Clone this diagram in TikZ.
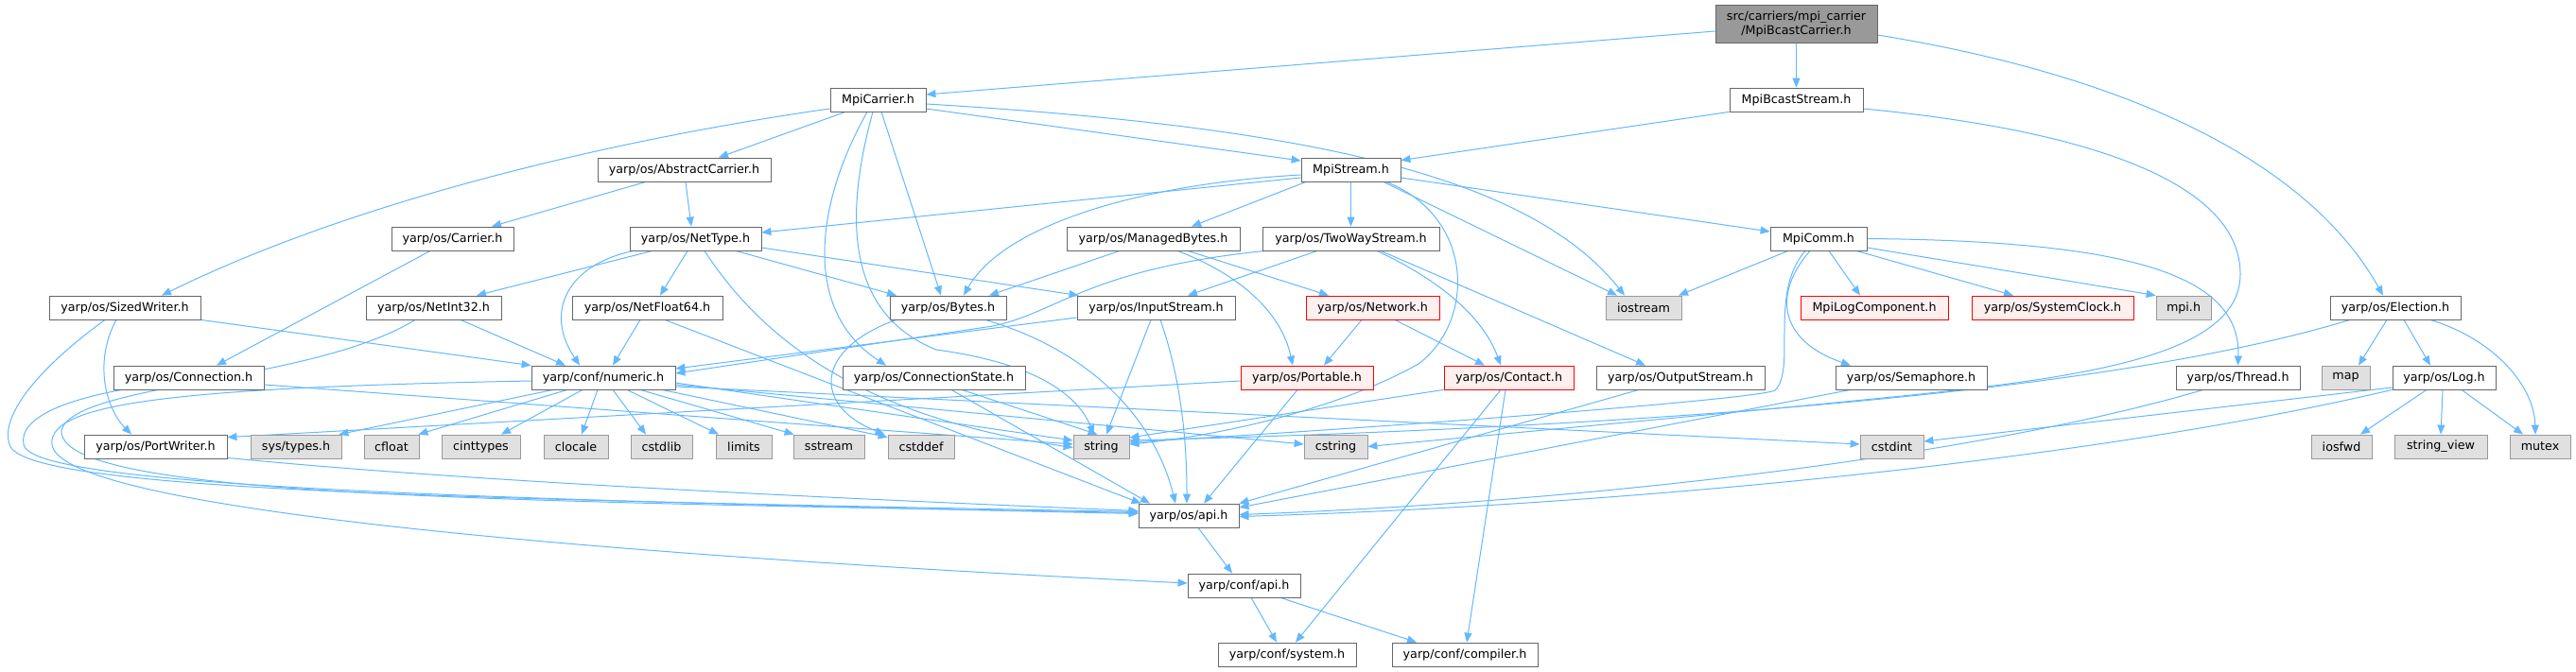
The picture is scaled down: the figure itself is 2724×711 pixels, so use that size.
\documentclass[tikz,border=0pt]{standalone}
\usepackage{fontspec}
\newfontfamily\dvs{DejaVu Sans}
\usetikzlibrary{arrows.meta,backgrounds}
\definecolor{edgeblue}{HTML}{63B8FF}
\definecolor{nborder}{HTML}{666666}
\definecolor{gborder}{HTML}{999999}
\definecolor{gfill}{HTML}{E0E0E0}
\definecolor{rfill}{HTML}{FFF0F0}
\definecolor{rootfill}{HTML}{999999}
\begin{document}
\begin{tikzpicture}[x=1pt,y=-1pt,
  nbox/.style={draw=nborder, fill=white, line width=0.8pt, minimum height=25pt, inner sep=0pt,
    font=\dvs\fontsize{12.7}{15}\selectfont, text=black},
  gbox/.style={nbox, draw=gborder, fill=gfill},
  rbox/.style={nbox, draw=red, fill=rfill},
  edge/.style={draw=edgeblue, line width=1pt, -{Triangle[length=10pt,width=8pt]}}]
\useasboundingbox (0,0) rectangle (2724,711);
% nodes
\node[nbox, fill=rootfill, minimum width=171pt, minimum height=40pt, align=center] (root) at (1899.5,25) {src/carriers/mpi\_carrier\\/MpiBcastCarrier.h};
\node[nbox, minimum width=101pt] (MC) at (928.5,105.5) {MpiCarrier.h};
\node[nbox, minimum width=141pt] (MBS) at (1899.5,105.5) {MpiBcastStream.h};
\node[nbox, minimum width=183pt] (AC) at (723.5,179.5) {yarp/os/AbstractCarrier.h};
\node[nbox, minimum width=105pt] (MS) at (1428.5,179.5) {MpiStream.h};
\node[nbox, minimum width=129pt] (CA) at (478.5,252.5) {yarp/os/Carrier.h};
\node[nbox, minimum width=139pt] (NT) at (735.5,252.5) {yarp/os/NetType.h};
\node[nbox, minimum width=183pt] (MB) at (1219.5,252.5) {yarp/os/ManagedBytes.h};
\node[nbox, minimum width=187pt] (TWS) at (1428.5,252.5) {yarp/os/TwoWayStream.h};
\node[nbox, minimum width=102pt] (COMM) at (1923,252.5) {MpiComm.h};
\node[nbox, minimum width=160pt] (SW) at (132,325.5) {yarp/os/SizedWriter.h};
\node[nbox, minimum width=143pt] (NI) at (458.5,325.5) {yarp/os/NetInt32.h};
\node[nbox, minimum width=159pt] (NF) at (684.5,325.5) {yarp/os/NetFloat64.h};
\node[nbox, minimum width=123pt] (BY) at (1002.5,325.5) {yarp/os/Bytes.h};
\node[nbox, minimum width=167pt] (IS) at (1222.5,325.5) {yarp/os/InputStream.h};
\node[rbox, minimum width=141pt] (NW) at (1451.5,325.5) {yarp/os/Network.h};
\node[gbox, minimum width=80pt] (IO) at (1738,325.5) {iostream};
\node[rbox, minimum width=156pt] (MLC) at (1982,325.5) {MpiLogComponent.h};
\node[rbox, minimum width=171pt] (SC) at (2170.5,325.5) {yarp/os/SystemClock.h};
\node[gbox, minimum width=58pt] (MPI) at (2309,325.5) {mpi.h};
\node[nbox, minimum width=138pt] (EL) at (2533,325.5) {yarp/os/Election.h};
\node[nbox, minimum width=159pt] (CO) at (199.5,399.5) {yarp/os/Connection.h};
\node[nbox, minimum width=152pt] (NUM) at (638,399.5) {yarp/conf/numeric.h};
\node[nbox, minimum width=193pt] (CS) at (987.5,399.5) {yarp/os/ConnectionState.h};
\node[rbox, minimum width=140pt] (PO) at (1382,399.5) {yarp/os/Portable.h};
\node[rbox, minimum width=137pt] (CT) at (1595.5,399.5) {yarp/os/Contact.h};
\node[nbox, minimum width=178pt] (OS) at (1777,399.5) {yarp/os/OutputStream.h};
\node[nbox, minimum width=160pt] (SE) at (2021,399.5) {yarp/os/Semaphore.h};
\node[nbox, minimum width=131pt] (TH) at (2366.5,399.5) {yarp/os/Thread.h};
\node[gbox, minimum width=51pt] (MAP) at (2480.5,399.5) {map};
\node[nbox, minimum width=109pt] (LOG) at (2584.5,399.5) {yarp/os/Log.h};
\node[nbox, minimum width=151pt] (PW) at (164.5,472.5) {yarp/os/PortWriter.h};
\node[gbox, minimum width=96pt] (SYS) at (313,472.5) {sys/types.h};
\node[gbox, minimum width=58pt] (CFL) at (414,472.5) {cfloat};
\node[gbox, minimum width=83pt] (CIT) at (508.5,472.5) {cinttypes};
\node[gbox, minimum width=68pt] (CLO) at (609,472.5) {clocale};
\node[gbox, minimum width=65pt] (CSL) at (699.5,472.5) {cstdlib};
\node[gbox, minimum width=59pt] (LIM) at (786.5,472.5) {limits};
\node[gbox, minimum width=75pt] (SST) at (876.5,472.5) {sstream};
\node[gbox, minimum width=70pt] (CSD) at (974,472.5) {cstddef};
\node[gbox, minimum width=59pt] (STR) at (1164.5,472.5) {string};
\node[gbox, minimum width=67pt] (CST) at (1412.5,472.5) {cstring};
\node[gbox, minimum width=67pt] (CSI) at (2000.5,472.5) {cstdint};
\node[gbox, minimum width=64pt] (IOF) at (2476,472.5) {iosfwd};
\node[gbox, minimum width=98pt] (SV) at (2581,472.5) {string\_view};
\node[gbox, minimum width=64pt] (MUT) at (2686,472.5) {mutex};
\node[nbox, minimum width=106pt] (OSAPI) at (1257,545.5) {yarp/os/api.h};
\node[nbox, minimum width=119pt] (CAPI) at (1315.5,619.5) {yarp/conf/api.h};
\node[nbox, minimum width=146pt] (SYSH) at (1361,692.5) {yarp/conf/system.h};
\node[nbox, minimum width=154pt] (COMP) at (1549,692.5) {yarp/conf/compiler.h};
% edges
\begin{scope}[on background layer]
\fill[white] (0,0) rectangle (2724,711);
% root
\draw[edge] ([yshift=-8pt]root.west) -- ([yshift=5.5pt]MC.east);
\draw[edge] (root.south) -- (MBS.north);
\draw[edge] ([yshift=-12pt]root.east) .. controls (2250,80) and (2440,170) .. ([xshift=-13pt]EL.north);
% MpiCarrier
\draw[edge] ([yshift=-9.5pt]MC.west) .. controls (700,140) and (400,200) .. ([xshift=39pt]SW.north);
\draw[edge] ([xshift=-34.5pt]MC.south) -- ([xshift=36.5pt]AC.north);
\draw[edge] ([xshift=-11.5pt]MC.south) .. controls (860,220) and (850,330) .. ([xshift=-50.5pt]CS.north);
\draw[edge] ([xshift=-5.5pt]MC.south) .. controls (895,220) and (890,330) .. (990,370) .. controls (1100,385) and (1140,420) .. ([xshift=-7.5pt]STR.north);
\draw[edge] ([xshift=3.5pt]MC.south) -- ([xshift=-7.5pt]BY.north);
\draw[edge] ([yshift=-9.5pt]MC.east) -- ([yshift=9.5pt]MS.west);
\draw[edge] ([yshift=-4.5pt]MC.east) .. controls (1400,135) and (1620,190) .. ([xshift=-20pt]IO.north);
% MpiBcastStream
\draw[edge] (MBS.south west) -- ([yshift=-3pt]MS.north east);
\draw[edge] ([yshift=-9.5pt]MBS.east) .. controls (2230,140) and (2369,200) .. (2369,290) .. controls (2369,390) and (2150,405) .. (1900,430) -- (CST.east);
% MpiStream
\draw[edge] ([yshift=-8.5pt]MS.west) -- ([yshift=6.5pt]NT.east);
\draw[edge] ([yshift=-5.5pt]MS.west) .. controls (1200,195) and (1060,240) .. ([xshift=16.5pt]BY.north);
\draw[edge] ([xshift=-47.5pt]MS.south) -- ([xshift=40.5pt]MB.north);
\draw[edge] (MS.south) -- (TWS.north);
\draw[edge] ([xshift=34.5pt]MS.south) -- ([xshift=-28pt]IO.north);
\draw[edge] ([xshift=37.5pt]MS.south) .. controls (1560,230) and (1560,340) .. (1500,385) .. controls (1420,430) and (1300,460) .. ([yshift=2.5pt]STR.east);
\draw[edge] ([yshift=-8.5pt]MS.east) -- ([yshift=7.5pt]COMM.west);
% AbstractCarrier, Carrier
\draw[edge] ([xshift=-40.5pt]AC.south) -- ([xshift=41.5pt]CA.north);
\draw[edge] ([xshift=1.5pt]AC.south) -- ([xshift=-4.5pt]NT.north);
\draw[edge] ([xshift=-23.5pt]CA.south) -- ([xshift=29.5pt]CO.north);
% NetType
\draw[edge] ([xshift=-45.5pt]NT.south) -- ([xshift=45.5pt]NI.north);
\draw[edge] ([xshift=-65.5pt]NT.south) .. controls (600,280) and (575,330) .. ([xshift=-25pt]NUM.north);
\draw[edge] ([xshift=-8.5pt]NT.south) -- ([xshift=13.5pt]NF.north);
\draw[edge] ([xshift=42.5pt]NT.south) -- ([xshift=-54.5pt]BY.north);
\draw[edge] ([yshift=-9.5pt]NT.east) -- ([xshift=2pt]IS.north west);
\draw[edge] ([xshift=9.5pt]NT.south) .. controls (800,350) and (900,440) .. ([yshift=-1pt]STR.west);
% SizedWriter, NetInt32, NetFloat64
\draw[edge] ([xshift=-9pt]SW.south) .. controls (100,380) and (110,430) .. ([xshift=-25.5pt]PW.north);
\draw[edge] (SW.south east) -- (NUM.north west);
\draw[edge] ([xshift=-21pt]SW.south) .. controls (40,390) and (0,440) .. (10,470) .. controls (20,520) and (500,528) .. ([yshift=4pt]OSAPI.west);
\draw[edge] ([xshift=28.5pt]NI.south) -- ([xshift=-40pt]NUM.north);
\draw[edge] ([xshift=-19.5pt]NI.south) .. controls (330,405) and (80,405) .. (65,455) .. controls (60,525) and (500,530) .. ([yshift=3pt]OSAPI.west);
\draw[edge] ([xshift=-7.5pt]NF.south) -- ([xshift=10pt]NUM.north);
\draw[edge] ([xshift=18.5pt]NF.south) -- ([xshift=3pt]OSAPI.north west);
% Connection, PortWriter
\draw[edge] ([xshift=-70.5pt]CO.south) .. controls (60,425) and (20,445) .. (25,470) .. controls (30,515) and (500,528) .. ([yshift=2pt]OSAPI.west);
\draw[edge] ([yshift=-7.5pt]CO.east) -- ([yshift=2.5pt]STR.west);
\draw[edge] ([yshift=1pt]PW.south east) .. controls (500,510) and (900,528) .. ([yshift=5pt]OSAPI.west);
% numeric
\draw[edge] ([yshift=-3.5pt]NUM.west) .. controls (200,410) and (50,425) .. (55,470) .. controls (60,530) and (500,580) .. ([yshift=2.5pt]CAPI.west);
\draw[edge] ([xshift=-53pt]NUM.south) -- ([xshift=-3pt]SYS.north east);
\draw[edge] ([xshift=-38pt]NUM.south) -- ([xshift=-1pt]CFL.north east);
\draw[edge] ([xshift=-22pt]NUM.south) -- ([xshift=21.5pt]CIT.north);
\draw[edge] ([xshift=-6pt]NUM.south) -- ([xshift=6pt]CLO.north);
\draw[edge] ([xshift=10pt]NUM.south) -- ([xshift=-16.5pt]CSL.north);
\draw[edge] ([xshift=25pt]NUM.south) -- ([xshift=-26.5pt]LIM.north);
\draw[edge] ([xshift=39pt]NUM.south) -- ([xshift=1pt]SST.north west);
\draw[edge] ([xshift=62pt]NUM.south) -- ([yshift=-3pt]CSD.north west);
\draw[edge] ([yshift=-5.5pt]NUM.east) -- ([yshift=6.5pt]STR.west);
\draw[edge] ([yshift=-7.5pt]NUM.east) -- ([yshift=2.5pt]CST.west);
\draw[edge] ([yshift=-9.5pt]NUM.east) -- ([yshift=2.5pt]CSI.west);
% Bytes, ConnectionState, InputStream
\draw[edge] ([xshift=7pt]BY.south west) .. controls (860,370) and (860,430) .. ([xshift=-3pt]CSD.north west);
\draw[edge] ([xshift=39.5pt]BY.south) .. controls (1150,370) and (1220,440) .. ([xshift=-14pt]OSAPI.north);
\draw[edge] ([xshift=18.5pt]CS.south) -- ([xshift=-41pt]OSAPI.north);
\draw[edge] ([xshift=29.5pt]CS.south) -- ([xshift=-4pt]STR.north);
\draw[edge] ([xshift=-5.5pt]IS.south) -- ([xshift=5.5pt]STR.north);
\draw[edge] ([xshift=4.5pt]IS.south) .. controls (1245,390) and (1255,450) .. ([xshift=-2pt]OSAPI.north);
\draw[edge] ([yshift=-10.5pt]IS.west) -- ([yshift=9.5pt]NUM.east);
% TwoWayStream, ManagedBytes
\draw[edge] ([xshift=3pt]TWS.south west) .. controls (1150,285) and (1120,330) .. (1050,345) -- ([yshift=4.5pt]NUM.east);
\draw[edge] ([xshift=-35.5pt]TWS.south) -- ([xshift=33.5pt]IS.north);
\draw[edge] ([xshift=27.5pt]TWS.south) .. controls (1530,300) and (1570,340) .. ([xshift=-8.5pt]CT.north);
\draw[edge] ([xshift=31.5pt]TWS.south) -- ([xshift=-37pt]OS.north);
\draw[edge] ([xshift=-35.5pt]MB.south) -- ([xshift=43.5pt]BY.north);
\draw[edge] ([xshift=25.5pt]MB.south) .. controls (1310,290) and (1355,330) .. ([xshift=-15pt]PO.north);
\draw[edge] ([xshift=36.5pt]MB.south) -- ([xshift=-46.5pt]NW.north);
% Network, Portable, Contact
\draw[edge] ([xshift=-11.5pt]NW.south) -- ([xshift=18pt]PO.north);
\draw[edge] ([xshift=23.5pt]NW.south) -- ([xshift=-25.5pt]CT.north);
\draw[edge] ([xshift=-10pt]PO.south) -- ([xshift=16pt]OSAPI.north);
\draw[edge] ([yshift=-3.5pt]PO.west) -- ([yshift=-3pt]PW.north east);
\draw[edge] (CT.south west) -- ([yshift=9.5pt]STR.east);
\draw[edge] ([xshift=-8.5pt]CT.south) -- ([xshift=9pt]SYSH.north);
\draw[edge] ([xshift=-3.5pt]CT.south) -- ([xshift=2pt]COMP.north);
% OutputStream, Semaphore, Thread, Log
\draw[edge] ([xshift=-44pt]OS.south) -- (OSAPI.north east);
\draw[edge] ([xshift=-64pt]SE.south) -- ([yshift=8.5pt]OSAPI.east);
\draw[edge] ([xshift=-36.5pt]TH.south) .. controls (2100,480) and (1700,530) .. ([yshift=1pt]OSAPI.east);
\draw[edge] (LOG.south west) .. controls (2200,490) and (1700,535) .. ([yshift=-1pt]OSAPI.east);
\draw[edge] ([yshift=-10.5pt]LOG.west) -- ([yshift=5.5pt]CSI.east);
\draw[edge] ([xshift=-18.5pt]LOG.south) -- ([xshift=20pt]IOF.north);
\draw[edge] ([xshift=-1.5pt]LOG.south) -- (SV.north);
\draw[edge] ([xshift=18.5pt]LOG.south) -- ([xshift=-18pt]MUT.north);
% Election
\draw[edge] ([xshift=-9pt]EL.south) -- ([xshift=13.5pt]MAP.north);
\draw[edge] ([xshift=9pt]EL.south) -- ([xshift=-14.5pt]LOG.north);
\draw[edge] ([xshift=37pt]EL.south) .. controls (2640,360) and (2680,410) .. ([xshift=-5pt]MUT.north);
\draw[edge] ([xshift=-48pt]EL.south) .. controls (2250,410) and (1800,450) .. ([yshift=6.5pt]STR.east);
% MpiComm
\draw[edge] ([xshift=-32pt]COMM.south) -- ([xshift=37pt]IO.north);
\draw[edge] ([xshift=11pt]COMM.south) -- ([xshift=-15pt]MLC.north);
\draw[edge] ([xshift=-9pt]COMM.south) .. controls (1875,310) and (1880,360) .. ([xshift=-64pt]SE.north);
\draw[edge] ([xshift=-14pt]COMM.south) .. controls (1870,310) and (1900,390) .. (1877,413) .. controls (1860,422) and (1500,450) .. ([yshift=4.5pt]STR.east);
\draw[edge] (COMM.east) .. controls (2250,255) and (2370,290) .. (TH.north);
\draw[edge] ([xshift=40pt]COMM.south) -- ([xshift=-41.5pt]SC.north);
\draw[edge] ([yshift=-9.5pt]COMM.east) -- (MPI.north west);
% api
\draw[edge] ([xshift=10pt]OSAPI.south) -- ([xshift=-12.5pt]CAPI.north);
\draw[edge] ([xshift=7.5pt]CAPI.south) -- ([xshift=-11pt]SYSH.north);
\draw[edge] ([xshift=38.5pt]CAPI.south) -- ([xshift=-51pt]COMP.north);
\end{scope}
\end{tikzpicture}
\end{document}
